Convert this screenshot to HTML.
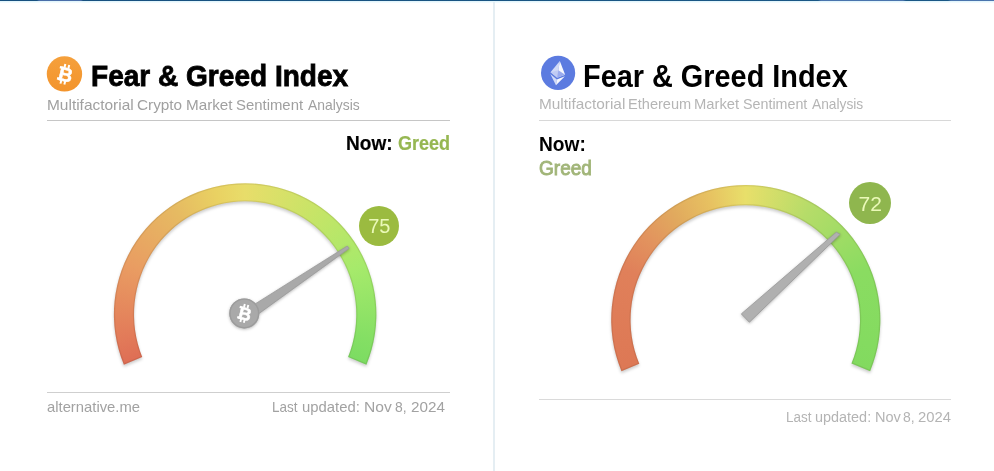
<!DOCTYPE html>
<html lang="en">
<head>
<meta charset="utf-8">
<title>Fear &amp; Greed Index</title>
<style>
  html,body{margin:0;padding:0;}
  body{width:994px;height:471px;position:relative;overflow:hidden;background:#fff;
       font-family:"Liberation Sans",sans-serif;color:#000;}
  .abs{position:absolute;}
  .t{position:absolute;white-space:nowrap;line-height:1;transform-origin:0 0;}
  .topbar{left:0;top:0;width:994px;height:1px;background:linear-gradient(90deg,#17507f 0,#17507f 37px,#4a6ea9 39px,#4a6ea9 81px,#17507f 83px,#1a5785 818px,#4a74ad 821px,#4a74ad 903px,#1a5785 906px,#1a5785 948px,#4a74ad 951px,#4a74ad 994px);}
  .topbar2{left:0;top:1px;width:994px;height:2px;background:linear-gradient(#dcf3fb,#f7fdff);}
  .divider{left:493px;top:2px;width:2px;height:469px;background:#e5eef3;}
  .hr{position:absolute;height:1px;background:#c6c6c6;}
  .bubble{position:absolute;border-radius:50%;color:#eaf9b8;text-align:center;}
  .sh{filter:drop-shadow(0 1px 1.5px rgba(0,0,0,.28));}
</style>
</head>
<body>
<div class="abs topbar"></div>
<div class="abs topbar2"></div>
<div class="abs divider"></div>

<!-- ================= LEFT: Bitcoin ================= -->
<svg class="abs" style="left:46px;top:55px" width="38" height="38" viewBox="0 0 38 38">
  <defs><linearGradient id="og" x1="0" y1="0" x2="0" y2="1"><stop offset="0" stop-color="#f5a03c"/><stop offset="1" stop-color="#f3942c"/></linearGradient></defs>
  <circle cx="18.45" cy="18.9" r="17.7" fill="url(#og)"/>
  <g transform="translate(0.6 0.5) rotate(14 18.9 19.2) translate(18.9 19.2) scale(0.95) translate(-18.9 -19.2)" fill="#fff">
    <text x="19.1" y="26.3" text-anchor="middle" font-family="Liberation Sans, sans-serif" font-weight="bold" font-size="20.5" stroke="#fff" stroke-width="0.5">B</text>
    <rect x="15.0" y="8.4" width="2.1" height="4"/>
    <rect x="19.2" y="8.4" width="2.1" height="4"/>
    <rect x="15.0" y="25.6" width="2.1" height="4"/>
    <rect x="19.2" y="25.6" width="2.1" height="4"/>
    <rect x="11.2" y="11.6" width="4" height="2.6"/>
    <rect x="11.2" y="23.7" width="4" height="2.6"/>
  </g>
</svg>
<div class="t" id="l-title" style="left:91.00px;top:61.00px;font-size:30.0px;font-weight:bold;transform:scaleX(0.9347);-webkit-text-stroke:0.8px #000;">Fear &amp; Greed Index</div>
<div class="t" id="l-sub-0" style="left:47.00px;top:98.00px;font-size:14.5px;color:#a0a0a0;transform:scaleX(1.0650);">Multifactorial</div>
<div class="t" id="l-sub-1" style="left:137.00px;top:98.00px;font-size:14.5px;color:#a0a0a0;transform:scaleX(1.0569);">Crypto</div>
<div class="t" id="l-sub-2" style="left:186.00px;top:98.00px;font-size:14.5px;color:#a0a0a0;transform:scaleX(1.0512);">Market</div>
<div class="t" id="l-sub-3" style="left:236.00px;top:98.00px;font-size:14.5px;color:#a0a0a0;transform:scaleX(1.0270);">Sentiment</div>
<div class="t" id="l-sub-4" style="left:308.00px;top:98.00px;font-size:14.5px;color:#a0a0a0;transform:scaleX(0.9584);">Analysis</div>
<div class="hr" style="left:47px;top:120px;width:403px"></div>
<div class="t" id="l-now" style="left:346.00px;top:134.00px;font-size:19.6px;font-weight:bold;transform:scaleX(0.9723);-webkit-text-stroke:0.2px #000;">Now:</div>
<div class="t" id="l-greed" style="left:398.00px;top:134.00px;font-size:19.6px;font-weight:bold;color:#96b752;transform:scaleX(0.9205);-webkit-text-stroke:0.2px #96b752;">Greed</div>


<!-- left gauge -->
<div class="abs" style="left:110.90px;top:180.20px;width:268.50px;height:268.50px;filter:drop-shadow(0 2.5px 1.8px rgba(0,0,0,.2));">
  <div class="abs" id="l-ring" style="left:0;top:0;width:268.50px;height:268.50px;background:conic-gradient(from 247.5deg,#de6e55 -3deg,#de6e55 0deg,#e27a59 11.25deg,#e99c62 45deg,#e6ba62 78.75deg,#e9d162 99deg,#e8dd6a 112.5deg,#c7e467 146.25deg,#a6ea6b 180deg,#84df64 213.75deg,#7cdc62 225deg,#7cdc62 228deg,rgba(124,220,98,0) 228.1deg,rgba(222,110,85,0) 356.9deg,#de6e55 357deg);clip-path:path('M12.99 184.48 A131.25 131.25 0 1 1 255.51 184.48 L237.16 176.88 A111.10 113.10 0 1 0 31.34 176.88 Z');"></div>
</div>
<svg class="abs" style="left:0;top:0;pointer-events:none" width="994" height="471" viewBox="0 0 994 471"><defs><clipPath id="l-cl"><path d="M123.89 364.68 A131.25 131.25 0 1 1 366.41 364.68 L348.06 357.08 A111.10 113.10 0 1 0 142.24 357.08 Z"/></clipPath></defs><path d="M123.89 364.68 A131.25 131.25 0 1 1 366.41 364.68 L348.06 357.08 A111.10 113.10 0 1 0 142.24 357.08 Z" fill="none" stroke="rgba(60,40,20,.10)" stroke-width="2.4" stroke-linejoin="round" clip-path="url(#l-cl)"/></svg>
<svg class="abs" style="left:0;top:0;overflow:visible" width="497" height="471" viewBox="0 0 497 471">
  <g class="sh">
    <polygon points="244.4,310.7 244.4,324 349.1,248.4 347.3,246" fill="#a9a9a9" stroke="#9b9b9b" stroke-width="0.8" stroke-linejoin="round"/>
    <circle cx="244.3" cy="313.4" r="15" fill="#a9a9a9"/>
  </g>
  <circle cx="244.3" cy="313.4" r="14.3" fill="none" stroke="#9c9c9c" stroke-width="1.4"/>
  <g transform="translate(0.5 0) rotate(14 244.3 313.4)" fill="#fff">
    <text x="244.6" y="319.8" text-anchor="middle" font-family="Liberation Sans, sans-serif" font-weight="bold" font-size="17.5" stroke="#fff" stroke-width="0.5">B</text>
    <rect x="241.1" y="304.3" width="1.9" height="3.6"/>
    <rect x="244.7" y="304.3" width="1.9" height="3.6"/>
    <rect x="241.1" y="319.2" width="1.9" height="3.6"/>
    <rect x="244.7" y="319.2" width="1.9" height="3.6"/>
    <rect x="237.8" y="307.2" width="3.4" height="2.3"/>
    <rect x="237.8" y="317.6" width="3.4" height="2.3"/>
  </g>
</svg>
<div class="bubble" id="l-bub" style="left:359.1px;top:206px;width:40.4px;height:40.4px;line-height:40.4px;background:#9bbb40;font-size:20px;">75</div>
<div class="hr" style="left:47px;top:392px;width:403px;background:#cfcfcf"></div>
<div class="t" id="l-alt" style="left:47.00px;top:400.00px;font-size:14.5px;color:#a2a2a2;transform:scaleX(1.0210);">alternative.me</div>
<div class="t" id="l-upd-0" style="left:272.00px;top:400.00px;font-size:14.5px;color:#a2a2a2;transform:scaleX(0.9318);">Last</div>
<div class="t" id="l-upd-1" style="left:302.00px;top:400.00px;font-size:14.5px;color:#a2a2a2;transform:scaleX(1.0239);">updated:</div>
<div class="t" id="l-upd-2" style="left:364.00px;top:400.00px;font-size:14.5px;color:#a2a2a2;transform:scaleX(1.0771);">Nov</div>
<div class="t" id="l-upd-3" style="left:395.00px;top:400.00px;font-size:14.5px;color:#a2a2a2;transform:scaleX(0.9612);">8,</div>
<div class="t" id="l-upd-4" style="left:411.00px;top:400.00px;font-size:14.5px;color:#a2a2a2;transform:scaleX(1.0511);">2024</div>

<!-- ================= RIGHT: Ethereum ================= -->
<svg class="abs" style="left:540px;top:55px" width="38" height="38" viewBox="0 0 38 38">
  <circle cx="18.1" cy="17.9" r="17.1" fill="#5c7be0"/>
  <g transform="translate(17.9 18.1) rotate(9)">
    <polygon points="0,-12.3 -7.4,0.4 0,4.8" fill="#ffffff" fill-opacity="0.72"/>
    <polygon points="0,-12.3 7.4,0.4 0,4.8" fill="#ffffff" fill-opacity="0.95"/>
    <polygon points="0,-3 -7.4,0.4 0,4.8" fill="#b9c5f3" fill-opacity="0.75"/>
    <polygon points="0,-3 7.4,0.4 0,4.8" fill="#8fa2ec" fill-opacity="0.9"/>
    <polygon points="-7.4,2 0,6.4 0,12.4" fill="#ffffff" fill-opacity="0.72"/>
    <polygon points="7.4,2 0,6.4 0,12.4" fill="#ffffff" fill-opacity="0.95"/>
  </g>
</svg>
<div class="t" id="r-title" style="left:583.00px;top:61.00px;font-size:31.6px;font-weight:bold;transform:scaleX(0.9136);">Fear &amp; Greed Index</div>
<div class="t" id="r-sub-0" style="left:539.00px;top:97.00px;font-size:14.6px;color:#b5b5b5;transform:scaleX(1.0537);">Multifactorial</div>
<div class="t" id="r-sub-1" style="left:628.00px;top:97.00px;font-size:14.6px;color:#b5b5b5;transform:scaleX(0.9995);">Ethereum</div>
<div class="t" id="r-sub-2" style="left:694.00px;top:97.00px;font-size:14.6px;color:#b5b5b5;transform:scaleX(1.0127);">Market</div>
<div class="t" id="r-sub-3" style="left:743.00px;top:97.00px;font-size:14.6px;color:#b5b5b5;transform:scaleX(0.9785);">Sentiment</div>
<div class="t" id="r-sub-4" style="left:812.00px;top:97.00px;font-size:14.6px;color:#b5b5b5;transform:scaleX(0.9432);">Analysis</div>
<div class="hr" style="left:539px;top:120px;width:412px;background:#d8d8d8"></div>
<div class="t" id="r-now" style="left:539.00px;top:134.00px;font-size:20.6px;font-weight:bold;transform:scaleX(0.9300);">Now:</div>
<div class="t" id="r-greed" style="left:539.00px;top:158.00px;font-size:20.6px;color:#a1b578;transform:scaleX(0.9247);-webkit-text-stroke:0.9px #a1b578;">Greed</div>


<!-- right gauge -->
<div class="abs" style="left:608.20px;top:182.10px;width:275.20px;height:275.20px;filter:drop-shadow(0 2.5px 1.8px rgba(0,0,0,.2));">
  <div class="abs" id="r-ring" style="left:0;top:0;width:275.20px;height:275.20px;background:conic-gradient(from 247.5deg,#dd7855 -3deg,#dd7855 0deg,#de7a56 11.25deg,#e0805a 45deg,#e2935e 62deg,#e1aa5e 78.75deg,#e7c161 95.6deg,#e8df6a 112.5deg,#b6dc69 142deg,#8adc61 180deg,#84db60 213.75deg,#82da5f 225deg,#82da5f 228deg,rgba(130,218,95,0) 228.1deg,rgba(221,120,85,0) 356.9deg,#dd7855 357deg);clip-path:path('M13.25 189.11 A134.60 134.60 0 1 1 261.95 189.11 L243.25 181.36 A114.70 114.70 0 1 0 31.10 181.71 Z');"></div>
</div>
<svg class="abs" style="left:0;top:0;pointer-events:none" width="994" height="471" viewBox="0 0 994 471"><defs><clipPath id="r-cl"><path d="M621.45 371.21 A134.60 134.60 0 1 1 870.15 371.21 L851.45 363.46 A114.70 114.70 0 1 0 639.30 363.81 Z"/></clipPath></defs><path d="M621.45 371.21 A134.60 134.60 0 1 1 870.15 371.21 L851.45 363.46 A114.70 114.70 0 1 0 639.30 363.81 Z" fill="none" stroke="rgba(60,40,20,.10)" stroke-width="2.4" stroke-linejoin="round" clip-path="url(#r-cl)"/></svg>
<svg class="abs" style="left:497px;top:0;overflow:visible" width="497" height="471" viewBox="497 0 497 471">
  <g class="sh">
    <polygon points="741.3,313.9 749.4,322.2 840.2,234.3 836.3,232.2" fill="#b0b0b0" stroke="#999" stroke-width="0.8" stroke-linejoin="round"/>
  </g>
</svg>
<div class="bubble" id="r-bub" style="left:848.8px;top:182.3px;width:42.2px;height:42.2px;line-height:44.4px;text-indent:0.8px;background:#8fb64e;font-size:21px;">72</div>
<div class="hr" style="left:539px;top:399px;width:412px;background:#dadada"></div>
<div class="t" id="r-upd-0" style="left:786.00px;top:410.00px;font-size:14.7px;color:#b4b4b4;transform:scaleX(0.9163);">Last</div>
<div class="t" id="r-upd-1" style="left:815.00px;top:410.00px;font-size:14.7px;color:#b4b4b4;transform:scaleX(0.9821);">updated:</div>
<div class="t" id="r-upd-2" style="left:875.00px;top:410.00px;font-size:14.7px;color:#b4b4b4;transform:scaleX(0.9904);">Nov</div>
<div class="t" id="r-upd-3" style="left:903.00px;top:410.00px;font-size:14.7px;color:#b4b4b4;transform:scaleX(0.9511);">8,</div>
<div class="t" id="r-upd-4" style="left:918.00px;top:410.00px;font-size:14.7px;color:#b4b4b4;transform:scaleX(1.0100);">2024</div>

</body>
</html>
